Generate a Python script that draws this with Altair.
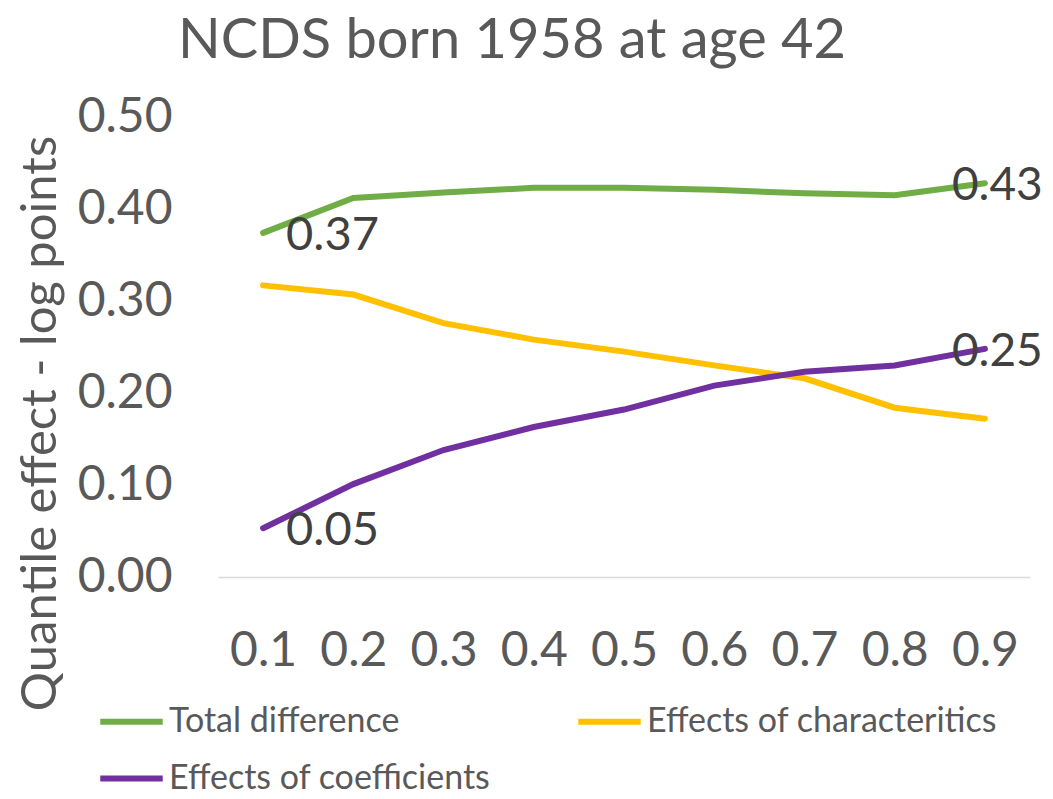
import altair as alt
import pandas as pd

quantiles = ["0.1", "0.2", "0.3", "0.4", "0.5", "0.6", "0.7", "0.8", "0.9"]
total_difference = [0.374, 0.412, 0.418, 0.423, 0.423, 0.421, 0.417, 0.415, 0.428]
effects_characteristics = [0.317, 0.307, 0.276, 0.258, 0.245, 0.230, 0.216, 0.184, 0.172]
effects_coefficients = [0.053, 0.101, 0.138, 0.163, 0.182, 0.208, 0.223, 0.230, 0.248]

series_names = ["Total difference", "Effects of characteritics", "Effects of coefficients"]
series_colors = ["#70AD47", "#FFC000", "#7030A0"]
labelled_series = ["Total difference", "Effects of coefficients"]

rows = []
for name, vals in zip(series_names, [total_difference, effects_characteristics, effects_coefficients]):
    for q, v in zip(quantiles, vals):
        rows.append({"quantile": q, "series": name, "value": v})
df = pd.DataFrame(rows)

FONT = "Lato"
GREY = "#595959"

x_enc = alt.X("quantile:O", sort=quantiles, title=None,
              scale=alt.Scale(paddingOuter=0.5),
              axis=alt.Axis(labelAngle=0, labelFontSize=48, labelColor=GREY, labelFont=FONT,
                            ticks=False, labelPadding=50, domainColor="#D9D9D9", domainWidth=1.5))
y_enc = alt.Y("value:Q", title="Quantile effect - log points",
              scale=alt.Scale(domain=[0, 0.5]),
              axis=alt.Axis(values=[0, 0.1, 0.2, 0.3, 0.4, 0.5], format=".2f", grid=False,
                            domain=False, ticks=False, labelFontSize=48, labelColor=GREY,
                            labelFont=FONT, labelPadding=46, titleFontSize=49, titleColor=GREY,
                            titleFont=FONT, titleFontWeight="normal", titleX=-178, titleY=306,
                            titleAngle=-90, titleBaseline="middle", titleAlign="center"))

color_enc = alt.Color("series:N", title=None,
                      scale=alt.Scale(domain=series_names, range=series_colors),
                      legend=alt.Legend(orient="none", legendX=-121, legendY=570, columns=2,
                                        direction="horizontal",
                                        symbolType="stroke", symbolSize=3900, symbolStrokeWidth=6,
                                        labelFontSize=34, labelColor=GREY, labelFont=FONT,
                                        labelOffset=3, rowPadding=5, columnPadding=75,
                                        labelLimit=600))

lines = alt.Chart(df).mark_line(strokeWidth=6, strokeCap="round").encode(
    x=x_enc, y=y_enc, color=color_enc)

lab_base = alt.Chart(df).transform_filter(
    alt.FieldOneOfPredicate(field="series", oneOf=labelled_series))

first_labels = lab_base.transform_filter(
    alt.datum.quantile == quantiles[0]).mark_text(
    align="left", baseline="middle", dx=23, dy=3, fontSize=47, font=FONT, color="#404040").encode(
    x=alt.X("quantile:O", sort=quantiles), y="value:Q", text=alt.Text("value:Q", format=".2f"))

last_labels = lab_base.transform_filter(
    alt.datum.quantile == quantiles[-1]).mark_text(
    align="left", baseline="middle", dx=-33, dy=3, fontSize=46, font=FONT, color="#404040").encode(
    x=alt.X("quantile:O", sort=quantiles), y="value:Q", text=alt.Text("value:Q", format=".2f"))

chart = alt.layer(lines, first_labels, last_labels).properties(
    width=812, height=460,
    title=alt.TitleParams("NCDS born 1958 at age 42", fontSize=56, font=FONT, color=GREY,
                          fontWeight="normal", anchor="start", frame="group", dx=-40, offset=23),
    autosize=alt.AutoSizeParams(type="none"),
    padding={"left": 210, "top": 109, "right": 15, "bottom": 214},
).configure_view(stroke=None)

chart.save("out.html", embed_options={"renderer": "svg", "actions": False})
